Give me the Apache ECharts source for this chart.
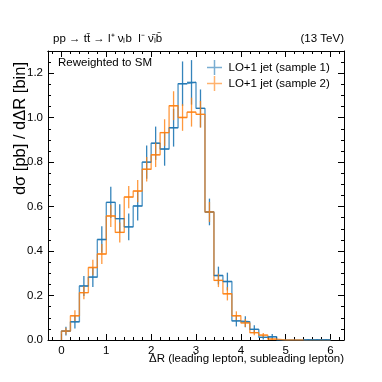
<!DOCTYPE html>
<html>
<head>
<meta charset="utf-8">
<script src="https://cdn.jsdelivr.net/npm/echarts@6/dist/echarts.min.js"></script>
<style>
  html, body { margin: 0; padding: 0; background: #fff; }
  #chart { width: 382px; height: 382px; }
</style>
</head>
<body>
<div id="chart"></div>
<script>
// bins of width 0.2 from 0 to 6.0
const binLow = [0.0, 0.2, 0.4, 0.6, 0.8, 1.0, 1.2, 1.4, 1.6, 1.8, 2.0, 2.2, 2.4, 2.6, 2.8,
  3.0, 3.2, 3.4, 3.6, 3.8, 4.0, 4.2, 4.4, 4.6, 4.8, 5.0, 5.2, 5.4, 5.6, 5.8];
const binWidth = 0.2;

const sample1 = [0.040, 0.082, 0.243, 0.283, 0.452, 0.619, 0.546, 0.509, 0.603, 0.800,
  0.885, 0.859, 0.955, 1.153, 1.159, 1.042, 0.576, 0.290, 0.263, 0.086,
  0.082, 0.048, 0.012, 0.015, 0, 0, 0, 0.001, 0.001, 0.001];
const sample1Err = [0.020, 0.030, 0.045, 0.045, 0.060, 0.070, 0.065, 0.060, 0.065, 0.075,
  0.075, 0.075, 0.085, 0.100, 0.100, 0.085, 0.060, 0.040, 0.040, 0.025,
  0.025, 0.018, 0.010, 0.012, 0, 0, 0, 0.004, 0.004, 0.004];

const sample2 = [0.040, 0.109, 0.213, 0.326, 0.387, 0.558, 0.484, 0.643, 0.670, 0.768,
  0.833, 0.933, 1.054, 1.001, 1.025, 1.015, 0.576, 0.268, 0.208, 0.109,
  0.077, 0.033, 0.022, 0.004, 0, 0, 0, 0, 0, 0];
const sample2Err = [0.015, 0.025, 0.030, 0.035, 0.045, 0.050, 0.045, 0.050, 0.050, 0.055,
  0.055, 0.060, 0.065, 0.060, 0.065, 0.060, 0.045, 0.030, 0.030, 0.020,
  0.018, 0.012, 0.010, 0.005, 0, 0, 0, 0, 0, 0];

const xMajorTicks = [0, 1, 2, 3, 4, 5, 6];
const xMinorTicks = [-0.2, 0, 0.2, 0.4, 0.6, 0.8, 1, 1.2, 1.4, 1.6, 1.8, 2, 2.2, 2.4, 2.6, 2.8,
  3, 3.2, 3.4, 3.6, 3.8, 4, 4.2, 4.4, 4.6, 4.8, 5, 5.2, 5.4, 5.6, 5.8, 6, 6.2];
const yMajorStep = 0.2;
const yMinorStep = 0.05;

const names = ['LO+1 jet (sample 1)', 'LO+1 jet (sample 2)'];
const colors = ['#1f77b4', '#ff7f0e'];
const FONT = 'Liberation Sans, Arial, Helvetica, sans-serif';

function stepData(vals) {
  let d = [[binLow[0], 0]];
  for (let i = 0; i < vals.length; i++) d.push([binLow[i], vals[i]]);
  const last = binLow[binLow.length - 1] + binWidth;
  d.push([last, vals[vals.length - 1]]);
  d.push([last, 0]);
  return d;
}

function errData(vals, errs) {
  let d = [];
  for (let i = 0; i < vals.length; i++) {
    if (vals[i] > 0 || errs[i] > 0) d.push([binLow[i] + binWidth / 2, vals[i], errs[i]]);
  }
  return d;
}

function errRender(color, opacity) {
  return function (params, api) {
    const x = api.value(0), v = api.value(1), e = api.value(2);
    const top = api.coord([x, v + e]);
    const bot = api.coord([x, Math.max(v - e, 0)]);
    const l = api.coord([x - binWidth / 2, v]);
    const r = api.coord([x + binWidth / 2, v]);
    const st = { stroke: color, lineWidth: 1.3, opacity: opacity };
    return {
      type: 'group',
      children: [
        { type: 'line', shape: { x1: top[0], y1: top[1], x2: bot[0], y2: bot[1] }, style: st },
        { type: 'line', shape: { x1: l[0], y1: l[1], x2: r[0], y2: r[1] }, style: st }
      ]
    };
  };
}

function xAxisDef(pos, ticks, len, labels) {
  return {
    type: 'value', position: pos, min: -0.3, max: 6.3,
    axisLine: { show: !!labels || pos === 'top', onZero: false, lineStyle: { color: '#000', width: 1 } },
    axisTick: { show: true, inside: true, length: len, customValues: ticks, lineStyle: { color: '#000' } },
    axisLabel: labels ? { show: true, customValues: ticks, color: '#000', fontSize: 11.5, fontFamily: FONT, margin: 5 } : { show: false },
    splitLine: { show: false }
  };
}

function yAxisDef(pos, labels) {
  return {
    type: 'value', position: pos, min: 0, max: 1.3, interval: yMajorStep,
    axisLine: { show: true, onZero: false, lineStyle: { color: '#000', width: 1 } },
    axisTick: { show: true, inside: true, length: 6, lineStyle: { color: '#000' } },
    minorTick: { show: true, splitNumber: Math.round(yMajorStep / yMinorStep), length: 3, lineStyle: { color: '#000' } },
    axisLabel: labels ? { show: true, color: '#000', fontSize: 11.5, fontFamily: FONT, margin: 5, showMaxLabel: false,
      formatter: v => v.toFixed(1) } : { show: false },
    splitLine: { show: false }
  };
}

const chart = echarts.init(document.getElementById('chart'));
const crossIcon = 'path://M0,4.5h10v1h-10z M4.5,0h1v10h-1z';

chart.setOption({
  animation: false,
  grid: { left: 48, right: 38, top: 51, bottom: 42, containLabel: false },
  xAxis: [
    xAxisDef('bottom', xMajorTicks, 6, true),
    xAxisDef('bottom', xMinorTicks, 3, false),
    xAxisDef('top', xMajorTicks, 6, false),
    xAxisDef('top', xMinorTicks, 3, false)
  ],
  yAxis: [
    yAxisDef('left', true),
    yAxisDef('right', false)
  ],
  legend: {
    orient: 'vertical', left: 202, top: 55, itemGap: 1,
    itemWidth: 18, itemHeight: 15,
    textStyle: { fontSize: 11.5, fontFamily: FONT, color: '#000' },
    data: [
      { name: names[0], icon: crossIcon, itemStyle: { color: colors[0], opacity: 0.6 } },
      { name: names[1], icon: crossIcon, itemStyle: { color: colors[1], opacity: 0.6 } }
    ]
  },
  series: [
    { name: names[0], type: 'line', step: 'end', data: stepData(sample1), showSymbol: false,
      lineStyle: { color: colors[0], width: 1.4, opacity: 0.75 }, itemStyle: { color: colors[0] }, z: 2 },
    { name: names[1], type: 'line', step: 'end', data: stepData(sample2), showSymbol: false,
      lineStyle: { color: colors[1], width: 1.4, opacity: 0.75 }, itemStyle: { color: colors[1] }, z: 3 },
    { name: names[0], type: 'custom', data: errData(sample1, sample1Err), renderItem: errRender(colors[0], 0.9),
      itemStyle: { color: colors[0] }, z: 4 },
    { name: names[1], type: 'custom', data: errData(sample2, sample2Err), renderItem: errRender(colors[1], 0.8),
      itemStyle: { color: colors[1] }, z: 5 }
  ],
  graphic: [
    { type: 'text', left: 53, top: 33, style: { text: 'pp → tt̄ → l⁺ νₗb  l⁻ ν̄ₗb̄', font: '11.5px ' + FONT, fill: '#000' } },
    { type: 'text', right: 38, top: 33, style: { text: '(13 TeV)', font: '11.5px ' + FONT, fill: '#000', textAlign: 'right' } },
    { type: 'text', left: 58, top: 57, style: { text: 'Reweighted to SM', font: '11.5px ' + FONT, fill: '#000' } },
    { type: 'text', right: 38, top: 353, style: { text: 'ΔR (leading lepton, subleading lepton)', font: '11.5px ' + FONT, fill: '#000', textAlign: 'right' } },
    { type: 'text', x: 12, y: 62, rotation: Math.PI / 2,
      style: { text: 'dσ [pb] / dΔR [bin]', font: '16.5px ' + FONT, fill: '#000', textAlign: 'right', textVerticalAlign: 'top' } }
  ]
});
</script>
</body>
</html>
